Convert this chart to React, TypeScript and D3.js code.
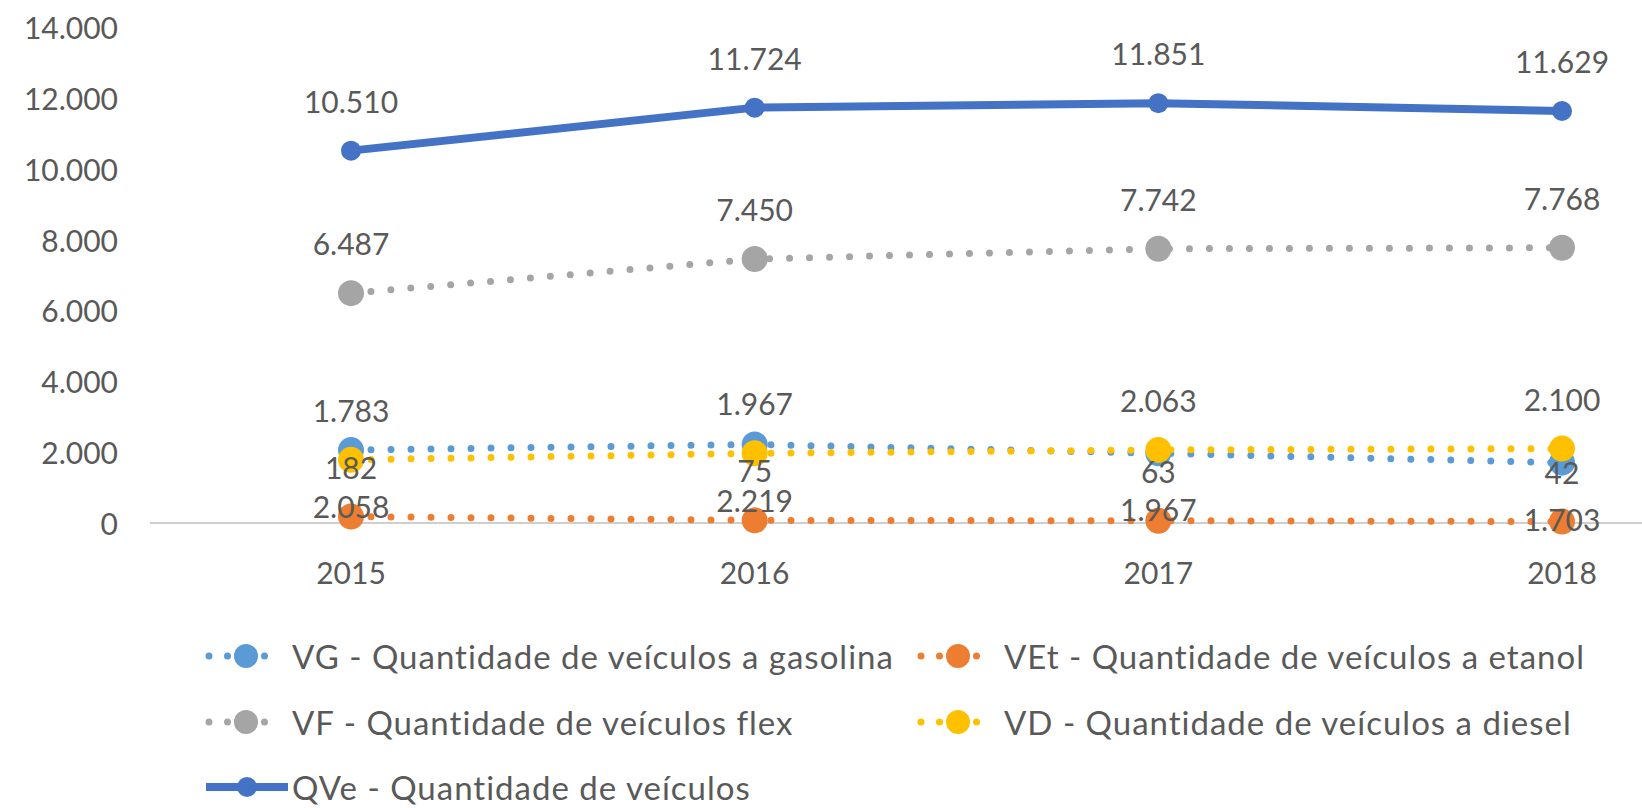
import React from "react";
import * as d3 from "d3";

// data
const years = ["2015", "2016", "2017", "2018"];
const vgValues = [2058, 2219, 1967, 1703];
const vetValues = [182, 75, 63, 42];
const vfValues = [6487, 7450, 7742, 7768];
const vdValues = [1783, 1967, 2063, 2100];
const qveValues = [10510, 11724, 11851, 11629];
const yTicks = [0, 2000, 4000, 6000, 8000, 10000, 12000, 14000];

const series = [
    { key: "VG", label: "VG - Quantidade de veículos a gasolina", values: vgValues, color: "#5B9BD5", dotted: true, labelBelow: true },
    { key: "VEt", label: "VEt - Quantidade de veículos a etanol", values: vetValues, color: "#ED7D31", dotted: true, labelBelow: false },
    { key: "VF", label: "VF - Quantidade de veículos flex", values: vfValues, color: "#A5A5A5", dotted: true, labelBelow: false },
    { key: "VD", label: "VD - Quantidade de veículos a diesel", values: vdValues, color: "#FFC000", dotted: true, labelBelow: false },
    { key: "QVe", label: "QVe - Quantidade de veículos", values: qveValues, color: "#4472C4", dotted: false, labelBelow: false },
];

const W = 1642;
const H = 808;
const font = "Lato, 'Open Sans', sans-serif";
const textColor = "#595959";

const ptBR = d3.formatLocale({ decimal: ",", thousands: ".", grouping: [3], currency: ["R$", ""] });
const fmt = ptBR.format(",d");

// legend layout: [column x, row y] for each series
const legendPos = [
    [206, 656],
    [918, 656],
    [206, 722],
    [918, 722],
    [206, 787],
];

const App = () => {
    const x = d3.scalePoint<string>().domain(years).range([351, 1562]);
    const y = d3.scaleLinear().domain([0, 14000]).range([523, 27]);

    const line = d3
        .line<number>()
        .x((d, i) => x(years[i]) as number)
        .y((d) => y(d));

    return (
        <svg width={W} height={H} style={{ position: "absolute", left: 0, top: 0, background: "#fff" }} fontFamily={font}>
            {/* y axis labels */}
            {yTicks.map((t) => (
                <text key={t} x={118} y={y(t)} textAnchor="end" dominantBaseline="central" fontSize={30} fill={textColor}>
                    {fmt(t)}
                </text>
            ))}
            {/* baseline */}
            <line x1={150} x2={W} y1={y(0)} y2={y(0)} stroke="#BFBFBF" strokeWidth={1.5} />
            {/* x labels */}
            {years.map((yr) => (
                <text key={yr} x={x(yr)} y={572} textAnchor="middle" dominantBaseline="central" fontSize={30} fill={textColor}>
                    {yr}
                </text>
            ))}

            {/* series */}
            {series.map((s) => (
                <g key={s.key}>
                    <path
                        d={line(s.values) as string}
                        fill="none"
                        stroke={s.color}
                        strokeWidth={s.dotted ? 7 : 8}
                        strokeDasharray={s.dotted ? "0 20" : undefined}
                        strokeLinecap="round"
                        strokeLinejoin="round"
                    />
                    {s.values.map((v, i) => (
                        <circle key={i} cx={x(years[i])} cy={y(v)} r={s.dotted ? 13 : 10} fill={s.color} />
                    ))}
                </g>
            ))}

            {/* data labels */}
            {series.map((s) =>
                s.values.map((v, i) => (
                    <text
                        key={s.key + i}
                        x={x(years[i])}
                        y={y(v) + (s.labelBelow ? 56 : -50)}
                        textAnchor="middle"
                        dominantBaseline="central"
                        fontSize={30}
                        fill={textColor}
                    >
                        {fmt(v)}
                    </text>
                ))
            )}

            {/* legend */}
            {series.map((s, i) => {
                const [lx, ly] = legendPos[i];
                return (
                    <g key={"lg" + s.key} transform={`translate(${lx},${ly})`}>
                        {s.dotted ? (
                            <line x1={3} x2={77} y1={0} y2={0} stroke={s.color} strokeWidth={7} strokeDasharray="0 18.5" strokeLinecap="round" />
                        ) : (
                            <line x1={0} x2={82} y1={0} y2={0} stroke={s.color} strokeWidth={8} />
                        )}
                        <circle cx={s.dotted ? 40 : 41} cy={0} r={s.dotted ? 12 : 10} fill={s.color} />
                        <text x={86} y={0} dominantBaseline="central" fontSize={33} letterSpacing={1} fill={textColor}>
                            {s.label}
                        </text>
                    </g>
                );
            })}
        </svg>
    );
};

export default App;
